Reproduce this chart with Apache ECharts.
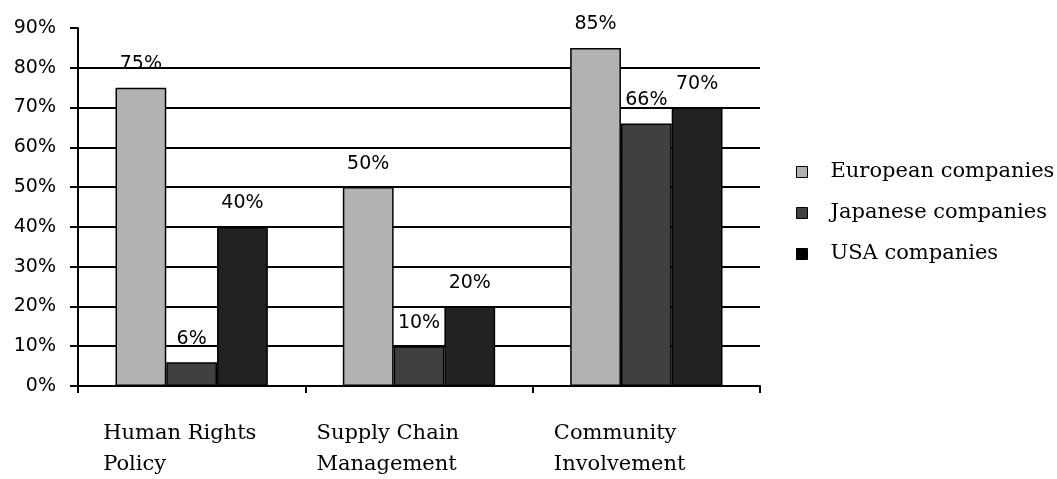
<!DOCTYPE html>
<html>
<head>
<meta charset="utf-8">
<script src="https://cdn.jsdelivr.net/npm/echarts@6/dist/echarts.min.js"></script>
<style>
  html, body { margin: 0; padding: 0; background: #fff; }
  #chart { width: 1057px; height: 479px; }
</style>
</head>
<body>
<div id="chart"></div>
<script>
// Share of companies with each policy, by region (percent)
const categories = ['Human Rights\nPolicy', 'Supply Chain\nManagement', 'Community\nInvolvement'];
const seriesNames = ['European companies', 'Japanese companies', 'USA companies'];
const european = [75, 50, 85];
const japanese = [6, 10, 66];
const usa = [40, 20, 70];
const yTicks = [0, 10, 20, 30, 40, 50, 60, 70, 80, 90];

const fills = ['#b2b2b2', '#404040', '#222222'];
const legendFills = ['#b2b2b2', '#404040', '#000000'];
const values = [european, japanese, usa];

const SANS = '"DejaVu Sans", sans-serif';
const SERIF = '"DejaVu Serif", serif';

// Width of each category label block; lines stay left-aligned inside it
const labelBlockWidths = [177, 205, 185];
const rich = {};
labelBlockWidths.forEach((w, i) => {
  rich['c' + i] = {
    width: w, align: 'left', fontFamily: SERIF, fontSize: 21,
    lineHeight: 31, color: '#000'
  };
});

const chart = echarts.init(document.getElementById('chart'), null, { renderer: 'canvas' });

chart.setOption({
  animation: false,
  backgroundColor: '#fff',
  grid: { left: 78, right: 297, top: 28, bottom: 93, containLabel: false },
  legend: {
    orient: 'vertical',
    left: 791,
    top: 156,
    itemWidth: 11,
    itemHeight: 11,
    itemGap: 19,
    icon: 'rect',
    data: seriesNames.map((n, i) => ({
      name: n,
      itemStyle: { color: legendFills[i], borderColor: '#000', borderWidth: 1 }
    })),
    textStyle: {
      fontFamily: SERIF, fontSize: 21, color: '#000',
      lineHeight: 22, padding: [0, 0, 0, 18]
    }
  },
  xAxis: {
    type: 'category',
    data: categories,
    boundaryGap: true,
    axisLine: { show: true, lineStyle: { color: '#000', width: 2 } },
    axisTick: { show: true, alignWithLabel: false, length: 7, lineStyle: { color: '#000', width: 2 } },
    axisLabel: {
      margin: 32,
      align: 'center',
      verticalAlign: 'top',
      formatter: (value, index) =>
        value.split('\n').map(line => '{c' + index + '|' + line + '}').join('\n'),
      rich: rich
    },
    splitLine: { show: false }
  },
  yAxis: {
    type: 'value',
    min: yTicks[0],
    max: yTicks[yTicks.length - 1],
    interval: 10,
    axisLine: { show: true, lineStyle: { color: '#000', width: 2 } },
    axisTick: { show: true, length: 8, lineStyle: { color: '#000', width: 2 } },
    axisLabel: {
      formatter: '{value}%',
      margin: 22,
      fontFamily: SANS, fontSize: 19, color: '#000'
    },
    splitLine: {
      show: true,
      showMaxLine: false,
      lineStyle: {
        color: ['#000', '#000', '#000', '#000', '#000', '#000', '#000', '#000', '#000', 'transparent'],
        width: 2
      }
    }
  },
  series: seriesNames.map((name, i) => ({
    name: name,
    type: 'bar',
    data: values[i],
    barGap: '0%',
    barCategoryGap: '33%',
    itemStyle: { color: fills[i], borderColor: '#000', borderWidth: 1.5 },
    label: {
      show: true,
      position: 'top',
      distance: 14,
      formatter: '{c}%',
      fontFamily: SANS, fontSize: 19, color: '#000'
    }
  }))
});
</script>
</body>
</html>
